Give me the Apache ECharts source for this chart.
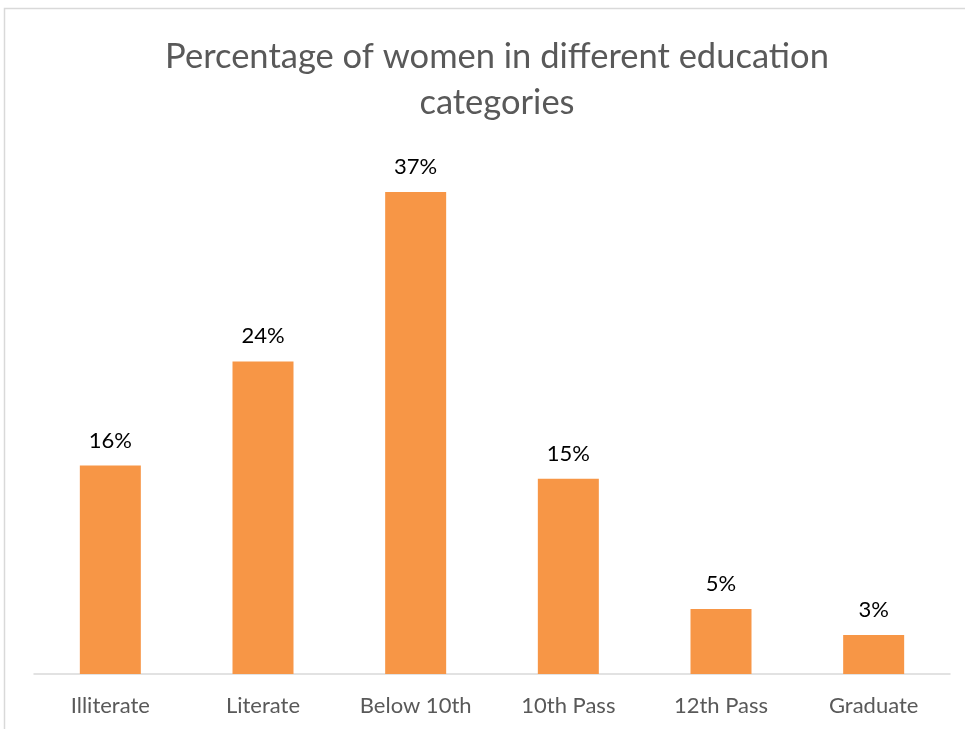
<!DOCTYPE html>
<html>
<head>
<meta charset="utf-8">
<script src="https://cdn.jsdelivr.net/npm/echarts@6/dist/echarts.min.js"></script>
<style>
html,body{margin:0;padding:0;background:#fff;}
#c{width:965px;height:729px;}
</style>
</head>
<body>
<div id="c"></div>
<script>
const categories = ["Illiterate", "Literate", "Below 10th", "10th Pass", "12th Pass", "Graduate"];
const values = [16, 24, 37, 15, 5, 3];
const titleText = "Percentage of women in different education\ncategories";

const chart = echarts.init(document.getElementById('c'));
chart.setOption({
  animation: false,
  backgroundColor: '#fff',
  graphic: [{
    type: 'rect',
    shape: {x: 4.5, y: 8.5, width: 1000, height: 800},
    style: {fill: 'none', stroke: '#d9d9d9', lineWidth: 1.5},
    silent: true
  }],
  title: {
    text: titleText,
    left: 492,
    textAlign: 'center',
    top: 29,
    textStyle: {fontFamily: 'Lato', fontSize: 34.5, fontWeight: 'normal', color: '#595959', lineHeight: 46}
  },
  grid: {left: 34, right: 15, top: 153, bottom: 55, containLabel: false},
  xAxis: {
    type: 'category',
    data: categories,
    axisLine: {lineStyle: {color: '#d9d9d9', width: 1.5}},
    axisTick: {show: false},
    axisLabel: {fontFamily: 'Lato', fontSize: 22, color: '#595959', margin: 21}
  },
  yAxis: {
    type: 'value',
    min: 0, max: 40,
    show: false,
    splitLine: {show: false}
  },
  series: [{
    type: 'bar',
    data: values,
    barWidth: 61,
    itemStyle: {color: '#F79646'},
    label: {
      show: true, position: 'top', distance: 14,
      formatter: p => p.value + '%',
      fontFamily: 'Lato', fontSize: 22, color: '#000'
    }
  }]
});
</script>
</body>
</html>
